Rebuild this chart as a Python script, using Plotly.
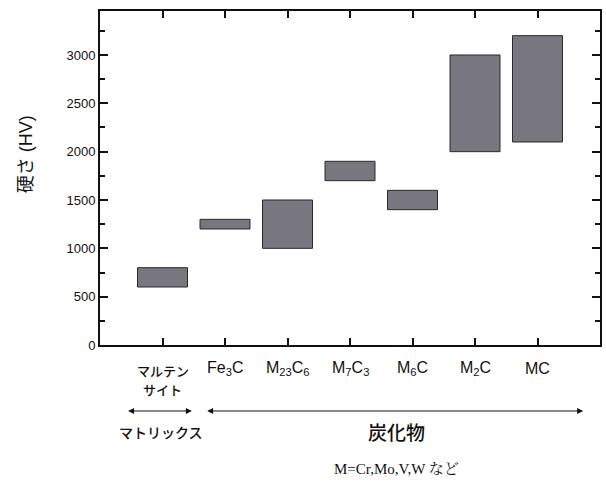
import plotly.graph_objects as go

# Hardness ranges (HV) of martensite and carbides
categories = ["マルテン<br>サイト", "Fe<sub>3</sub>C", "M<sub>23</sub>C<sub>6</sub>",
              "M<sub>7</sub>C<sub>3</sub>", "M<sub>6</sub>C", "M<sub>2</sub>C", "MC"]
hv_low = [600, 1200, 1000, 1700, 1400, 2000, 2100]
hv_high = [800, 1300, 1500, 1900, 1600, 3000, 3200]
y_ticks = [0, 500, 1000, 1500, 2000, 2500, 3000]

positions = list(range(len(categories)))

SANS = "Liberation Sans, Arial, Noto Sans CJK JP"
JP = "Noto Sans CJK JP"

W, H = 606, 490
M_L, M_R, M_T, M_B = 100, 4, 11, 145
PLOT_W = W - M_L - M_R
PLOT_H = H - M_T - M_B


def py(pix):
    """Convert a page pixel row into a paper / domain y coordinate."""
    return (H - M_B - pix) / PLOT_H


def px(pix):
    """Convert a page pixel column into a paper x coordinate."""
    return (pix - M_L) / PLOT_W


fig = go.Figure()
fig.add_trace(go.Bar(
    x=positions,
    y=[h - l for l, h in zip(hv_low, hv_high)],
    base=hv_low,
    width=0.8,
    marker=dict(color="#78777f", line=dict(color="#2a2a2a", width=1)),
    hoverinfo="skip",
    showlegend=False,
))

annotations = []
# category labels below the axis (two-line labels get one annotation per line)
for p, label in zip(positions, categories):
    lines = label.split("<br>")
    if len(lines) > 1:
        for i, line in enumerate(lines):
            annotations.append(dict(
                x=p, y=py(370 + 20 * i), xref="x", yref="paper",
                text=line, showarrow=False,
                font=dict(family=JP, size=13, color="#111", weight=500),
                xanchor="center", yanchor="middle",
            ))
    else:
        annotations.append(dict(
            x=p, y=py(369), xref="x", yref="paper",
            text=label, showarrow=False,
            font=dict(family=SANS, size=16, color="#111"),
            xanchor="center", yanchor="middle",
        ))

# grouping arrows
for x0, x1 in [(-0.575, 0.47), (0.69, 6.73)]:
    annotations.append(dict(
        x=x1, y=py(411), ax=x0, ay=py(411),
        xref="x", yref="y domain", axref="x", ayref="y domain",
        text="", showarrow=True, arrowside="end+start",
        arrowhead=2, arrowsize=1.2, arrowwidth=1, arrowcolor="#111",
    ))

annotations += [
    dict(x=-0.02, y=py(432), xref="x", yref="paper", text="マトリックス",
         showarrow=False, font=dict(family=JP, size=14, color="#111", weight=500),
         xanchor="center", yanchor="middle"),
    dict(x=3.75, y=py(432), xref="x", yref="paper", text="炭化物",
         showarrow=False, font=dict(family=JP, size=19, color="#111", weight=500),
         xanchor="center", yanchor="middle"),
    dict(x=3.75, y=py(469), xref="x", yref="paper", text="M=Cr,Mo,V,W など",
         showarrow=False,
         font=dict(family="Liberation Serif, Times New Roman, Noto Serif CJK JP, Noto Sans CJK JP",
                   size=15, color="#111"),
         xanchor="center", yanchor="middle"),
    dict(x=px(26), y=py(154), xref="paper", yref="paper", text="硬さ (HV)",
         showarrow=False, textangle=-90,
         font=dict(family=SANS, size=18, color="#111"),
         xanchor="center", yanchor="middle"),
]

fig.update_layout(
    width=W, height=H,
    margin=dict(l=M_L, r=M_R, t=M_T, b=M_B),
    paper_bgcolor="white", plot_bgcolor="white",
    annotations=annotations,
    xaxis=dict(
        range=[-1, 7], tickvals=positions, ticktext=[""] * len(positions),
        ticks="inside", ticklen=7, tickwidth=1.5, tickcolor="#111",
        showline=True, linewidth=2, linecolor="#111", mirror="ticks",
        showgrid=False, zeroline=False, fixedrange=True,
    ),
    yaxis=dict(
        range=[0, 3455], tickvals=y_ticks,
        ticks="inside", ticklen=8, tickwidth=1.5, tickcolor="#111",
        minor=dict(dtick=250, tick0=0, ticks="inside", ticklen=5, tickwidth=1.5, tickcolor="#111"),
        tickfont=dict(family=SANS, size=13, color="#111"),
        showline=True, linewidth=2, linecolor="#111", mirror="ticks",
        showgrid=False, zeroline=False, fixedrange=True,
    ),
)

fig.write_html("out.html")
